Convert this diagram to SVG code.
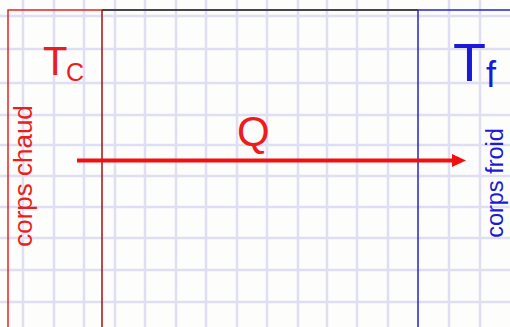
<svg xmlns="http://www.w3.org/2000/svg" width="510" height="327" viewBox="0 0 510 327">
<style>
.grid line{stroke:#dedef5;stroke-width:2.5}
.txt{font-family:"Liberation Sans",Arial,sans-serif}
.red{fill:#ee1c1c}
.blue{fill:#1a1ad8}
</style>
<rect x="0" y="0" width="510" height="327" fill="#fdfdfb"/>
<g class="grid">
<line x1="23" y1="0" x2="23" y2="327"/>
<line x1="54" y1="0" x2="54" y2="327"/>
<line x1="84" y1="0" x2="84" y2="327"/>
<line x1="115" y1="0" x2="115" y2="327"/>
<line x1="145" y1="0" x2="145" y2="327"/>
<line x1="176" y1="0" x2="176" y2="327"/>
<line x1="206" y1="0" x2="206" y2="327"/>
<line x1="237" y1="0" x2="237" y2="327"/>
<line x1="267" y1="0" x2="267" y2="327"/>
<line x1="298" y1="0" x2="298" y2="327"/>
<line x1="327" y1="0" x2="327" y2="327"/>
<line x1="357" y1="0" x2="357" y2="327"/>
<line x1="388" y1="0" x2="388" y2="327"/>
<line x1="449" y1="0" x2="449" y2="327"/>
<line x1="480" y1="0" x2="480" y2="327"/>
<line x1="0" y1="16" x2="510" y2="16"/>
<line x1="0" y1="49" x2="510" y2="49"/>
<line x1="0" y1="83" x2="510" y2="83"/>
<line x1="0" y1="115" x2="510" y2="115"/>
<line x1="0" y1="145" x2="510" y2="145"/>
<line x1="0" y1="176" x2="510" y2="176"/>
<line x1="0" y1="207" x2="510" y2="207"/>
<line x1="0" y1="238" x2="510" y2="238"/>
<line x1="0" y1="270" x2="510" y2="270"/>
<line x1="0" y1="302" x2="510" y2="302"/>
</g>
<line x1="102" y1="10" x2="418" y2="10" stroke="#454545" stroke-width="2"/>
<g id="corps-chaud">
<polyline points="8,327 8,10 102,10" fill="none" stroke="#e82020" stroke-width="1.5"/>
<line x1="102" y1="10" x2="102" y2="327" stroke="#a01010" stroke-width="1.5"/>
<text class="txt red" x="43" y="75" font-size="40">T</text>
<text class="txt red" x="66" y="81" font-size="25">C</text>
<text class="txt red" transform="translate(32,176) rotate(-90)" text-anchor="middle" font-size="26">corps chaud</text>
</g>
<g id="corps-froid">
<polyline points="418,327 418,10 510,10" fill="none" stroke="#2424c8" stroke-width="1.5"/>
<text class="txt blue" x="453" y="81" font-size="54">T</text>
<text class="txt blue" x="486" y="87" font-size="36">f</text>
<text class="txt blue" transform="translate(503,183) rotate(-90)" text-anchor="middle" font-size="23.5">corps froid</text>
</g>
<g id="connectors">
<line x1="77" y1="160.5" x2="453" y2="160.5" stroke="#f01010" stroke-width="4"/>
<polygon points="452,154 466,160.5 452,167" fill="#f01010"/>
<text class="txt red" x="237" y="146" font-size="42">Q</text>
</g>
</svg>
